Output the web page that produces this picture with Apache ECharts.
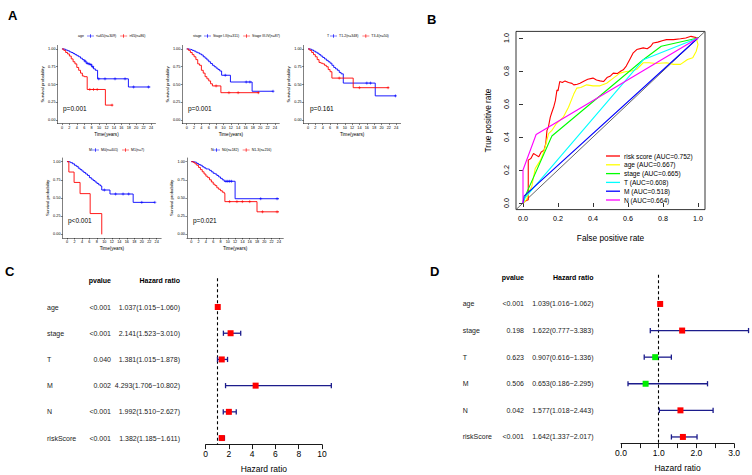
<!DOCTYPE html>
<html><head><meta charset="utf-8">
<script src="https://cdn.jsdelivr.net/npm/echarts@6/dist/echarts.min.js"></script>
<style>html,body{margin:0;padding:0;background:#fff}#c{width:752px;height:475px}</style>
</head><body><div id="c"></div>
<script>
// ---------------- DATA ----------------
const kmXTicks = [0,2,4,6,8,10,12,14,16,18,20,22,24];
const kmYTicks = [0,0.25,0.5,0.75,1];
const kmYLabels = ['0.00','0.25','0.50','0.75','1.00'];
const kmTitles = ['age','stage','T','M','N'];
const kmNames = [['<=65(n=309)','>65(n=86)'],['Stage I-II(n=311)','Stage III-IV(n=87)'],['T1-2(n=348)','T3-4(n=50)'],['M0(n=401)','M1(n=7)'],['N0(n=182)','N1-3(n=216)']];
const kmPvalues = ['p=0.001','p=0.001','p=0.161','p<0.001','p=0.021'];

const ageLow = [[0,1],[0.5,0.995],[1,0.985],[1.5,0.975],[2,0.96],[2.5,0.95],[3,0.935],[3.5,0.92],[4,0.905],[4.5,0.89],[5,0.87],[5.5,0.85],[6,0.83],[6.5,0.8],[7,0.79],[7.5,0.78],[8,0.75],[8.5,0.72],[9,0.7],[9.6,0.58],[17.9,0.465],[23.8,0.465]];
const ageLowCensor = [[6.2,0.83],[6.8,0.8],[7.3,0.79],[7.8,0.78],[8.3,0.75],[9.9,0.58],[11.6,0.58],[14.3,0.58],[17,0.58],[19.3,0.465],[23.3,0.465]];
const ageHigh = [[0,1],[0.5,0.98],[1,0.95],[1.5,0.93],[2,0.9],[2.5,0.86],[3,0.82],[3.5,0.79],[4,0.74],[4.5,0.7],[5,0.66],[5.5,0.62],[6,0.61],[6.8,0.43],[11.7,0.21],[13.7,0.21]];
const ageHighCensor = [[7.5,0.43],[8.5,0.43],[9.5,0.43],[13.5,0.21]];

const stageLow = [[0,1],[0.5,0.995],[1,0.99],[1.5,0.98],[2,0.97],[2.5,0.955],[3,0.945],[3.5,0.93],[4,0.915],[4.5,0.89],[5,0.87],[5.5,0.845],[6,0.82],[6.5,0.795],[7,0.77],[7.5,0.75],[8,0.73],[8.5,0.71],[9,0.69],[9.5,0.63],[11.9,0.535],[17.8,0.405],[23.6,0.405]];
const stageLowCensor = [[10.5,0.63],[16.2,0.535],[17.2,0.535],[23.5,0.405]];
const stageHigh = [[0,1],[0.5,0.98],[1,0.95],[1.5,0.92],[2,0.89],[2.5,0.85],[3,0.79],[3.5,0.77],[4,0.7],[4.5,0.66],[5,0.61],[5.5,0.58],[6,0.55],[6.5,0.51],[7,0.48],[9.3,0.385],[19.7,0.385]];
const stageHighCensor = [[8,0.48],[11.5,0.385],[14,0.385],[19.5,0.385]];

const tLow = [[0,1],[0.5,0.995],[1,0.985],[1.5,0.97],[2,0.955],[2.5,0.94],[3,0.92],[3.5,0.9],[4,0.88],[4.5,0.86],[5,0.84],[5.5,0.82],[6,0.8],[6.5,0.77],[7,0.74],[7.5,0.72],[8,0.7],[8.5,0.67],[9,0.65],[9.6,0.52],[18.3,0.34],[24,0.34]];
const tLowCensor = [[16,0.52],[17,0.52],[23.8,0.34]];
const tHigh = [[0,1],[0.5,0.98],[1,0.95],[1.5,0.92],[2,0.89],[2.5,0.85],[3,0.81],[3.5,0.8],[4,0.79],[4.5,0.77],[5,0.75],[5.5,0.71],[6,0.68],[6.5,0.59],[12.3,0.455],[22,0.455]];
const tHighCensor = [[8.5,0.59],[14,0.455],[21.8,0.455]];

const mLow = [[0,1],[0.5,0.995],[1,0.985],[1.5,0.97],[2,0.95],[2.5,0.935],[3,0.91],[3.5,0.89],[4,0.87],[4.5,0.85],[5,0.83],[5.5,0.81],[6,0.78],[6.5,0.76],[7,0.74],[7.5,0.72],[8,0.7],[8.5,0.68],[9,0.665],[9.3,0.61],[11.5,0.555],[17.7,0.44],[23.5,0.44]];
const mLowCensor = [[10,0.61],[13,0.555],[15,0.555],[16.5,0.555],[20,0.44],[23.5,0.44]];
const mHigh = [[0,1],[0.5,0.857],[1.9,0.714],[3.5,0.56],[6.2,0.286],[9.3,0]];
const mHighCensor = [];

const nLow = [[0,1],[0.5,0.995],[1,0.99],[1.5,0.975],[2,0.96],[2.5,0.95],[3,0.93],[3.5,0.915],[4,0.9],[4.5,0.895],[5,0.88],[5.5,0.86],[6,0.84],[6.5,0.83],[7,0.81],[7.5,0.79],[8,0.77],[8.5,0.75],[9,0.73],[12,0.49],[24,0.49]];
const nLowCensor = [[9.5,0.73],[10,0.73],[10.5,0.73],[11,0.73],[19,0.49],[23.5,0.49]];
const nHigh = [[0,1],[0.5,0.99],[1,0.97],[1.5,0.95],[2,0.92],[2.5,0.89],[3,0.86],[3.5,0.83],[4,0.8],[4.5,0.78],[5,0.75],[5.5,0.72],[6,0.69],[6.5,0.67],[7,0.64],[7.5,0.62],[8,0.6],[8.5,0.58],[9,0.565],[9.2,0.45],[18,0.31],[24,0.31]];
const nHighCensor = [[10.5,0.45],[12.5,0.45],[14,0.45],[16,0.45],[19.5,0.31],[23.5,0.31]];

const kmCurves = [[ageLow,ageHigh],[stageLow,stageHigh],[tLow,tHigh],[mLow,mHigh],[nLow,nHigh]];
const kmCensors = [[ageLowCensor,ageHighCensor],[stageLowCensor,stageHighCensor],[tLowCensor,tHighCensor],[mLowCensor,mHighCensor],[nLowCensor,nHighCensor]];

const rocTicks = [0,0.2,0.4,0.6,0.8,1.0];
const rocNames = ['risk score (AUC=0.752)','age (AUC=0.667)','stage (AUC=0.665)','T (AUC=0.608)','M (AUC=0.518)','N (AUC=0.664)'];
const rocRisk = [[0,0],[0.01,0.01],[0.03,0.02],[0.03,0.26],[0.045,0.27],[0.06,0.3],[0.075,0.29],[0.09,0.28],[0.105,0.31],[0.12,0.32],[0.13,0.36],[0.137,0.44],[0.145,0.46],[0.156,0.52],[0.165,0.55],[0.175,0.58],[0.185,0.62],[0.194,0.685],[0.2,0.68],[0.21,0.736],[0.225,0.73],[0.24,0.74],[0.26,0.73],[0.28,0.725],[0.29,0.716],[0.31,0.72],[0.326,0.726],[0.35,0.74],[0.37,0.75],[0.4,0.757],[0.42,0.745],[0.44,0.74],[0.46,0.736],[0.48,0.76],[0.5,0.77],[0.516,0.787],[0.54,0.785],[0.56,0.8],[0.573,0.807],[0.59,0.83],[0.61,0.87],[0.63,0.91],[0.65,0.93],[0.687,0.94],[0.71,0.935],[0.73,0.95],[0.744,0.97],[0.77,0.975],[0.8,0.985],[0.82,0.99],[0.86,0.99],[0.9,0.995],[0.93,1.0],[0.96,1.01],[1,1]];
const rocAge = [[0,0],[0.02,0.02],[0.04,0.08],[0.05,0.1],[0.07,0.21],[0.1,0.26],[0.115,0.3],[0.127,0.34],[0.146,0.42],[0.165,0.44],[0.19,0.48],[0.23,0.52],[0.26,0.58],[0.29,0.66],[0.307,0.696],[0.33,0.7],[0.364,0.716],[0.4,0.71],[0.44,0.71],[0.478,0.726],[0.52,0.76],[0.554,0.787],[0.59,0.797],[0.62,0.8],[0.65,0.81],[0.687,0.85],[0.72,0.85],[0.76,0.845],[0.82,0.85],[0.86,0.84],[0.9,0.84],[0.94,0.87],[0.97,0.88],[0.99,0.92],[1.0,0.96],[0.99,1.0],[1,1]];
const rocStage = [[0,0],[0.02,0.06],[0.165,0.406],[0.687,0.868],[0.79,0.95],[1,1]];
const rocT = [[0,0],[0.01,0.03],[0.687,0.868],[1,1]];
const rocM = [[0,0],[0.006,0.042],[1,1]];
const rocN = [[0,0],[0,0.2],[0.075,0.415],[1,1]];
const rocCurves = [rocRisk,rocAge,rocStage,rocT,rocM,rocN];

const coxRows = ['age','stage','T','M','N','riskScore'];
const coxHeaders = ['pvalue','Hazard ratio'];
const uniP = ['<0.001','<0.001','0.040','0.002','<0.001','<0.001'];
const uniHR = [1.037,2.141,1.381,4.293,1.992,1.382];
const uniLow = [1.015,1.523,1.015,1.706,1.510,1.185];
const uniHigh = [1.060,3.010,1.878,10.802,2.627,1.611];
const multiP = ['<0.001','0.198','0.623','0.506','0.042','<0.001'];
const multiHR = [1.039,1.622,0.907,0.653,1.577,1.642];
const multiLow = [1.016,0.777,0.616,0.186,1.018,1.337];
const multiHigh = [1.062,3.383,1.336,2.295,2.443,2.017];
const uniTicks = {min:0,max:10,interval:2};
const multiTicks = {min:0,max:3,interval:0.5};

// ---------------- LAYOUT / STYLE ----------------
const FONT = 'Liberation Sans, Arial, sans-serif';
const kmColors = ['#0000FF','#FF0000'];
const rocColors = ['#FF0000','#FFFF00','#00FF00','#00FFFF','#0000FF','#FF00FF'];
const kmGrids = [
  {left:57.5, top:45.4, width:98, height:78.2},
  {left:182.3, top:45.4, width:97, height:78.2},
  {left:303.6, top:45.4, width:97, height:78.2},
  {left:62.5, top:158, width:98.7, height:80},
  {left:186.9, top:158, width:96.4, height:80}
];
const kmLegendPos = [{left:87,top:34},{left:204,top:34},{left:330,top:34},{left:92,top:148},{left:213,top:148}];
const kmTitlePos = [[78,35.7],[193,35.7],[327,35.7],[89,149.7],[211,149.7]];
const kmPPos = [[63,108],[188,108],[310,108],[68,220.7],[193,220]];

const grids = [], xAxes = [], yAxes = [], series = [], legends = [], graphics = [];
const plusSym = 'path://M0,5L10,5M5,0L5,10';

kmGrids.forEach((g,i)=>{
  grids.push(Object.assign({containLabel:false}, g));
  xAxes.push({type:'value', gridIndex:i, min:-1.2, max:25.2,
    axisLine:{show:true, onZero:false, lineStyle:{color:'#000', width:0.5}},
    axisTick:{show:true, customValues:kmXTicks, length:1.5, lineStyle:{color:'#000', width:0.5}},
    axisLabel:{customValues:kmXTicks, fontSize:3.8, margin:2, color:'#000', fontFamily:FONT},
    splitLine:{show:false},
    name:'Time(years)', nameLocation:'middle', nameGap:8, nameTextStyle:{fontSize:4.6, color:'#000', fontFamily:FONT}});
  yAxes.push({type:'value', gridIndex:i, min:-0.05, max:1.05,
    axisLine:{show:true, onZero:false, lineStyle:{color:'#000', width:0.5}},
    axisTick:{show:true, customValues:kmYTicks, length:1.5, lineStyle:{color:'#000', width:0.5}},
    axisLabel:{customValues:kmYTicks, fontSize:3.8, margin:2, color:'#000', fontFamily:FONT,
      formatter:v=>kmYLabels[kmYTicks.indexOf(v)]},
    splitLine:{show:false},
    name:'Survival probability', nameLocation:'middle', nameGap:12, nameTextStyle:{fontSize:4.3, color:'#000', fontFamily:FONT}});
  kmCurves[i].forEach((curve,k)=>{
    series.push({type:'line', name:kmNames[i][k], xAxisIndex:i, yAxisIndex:i, data:curve, step:'end',
      symbol:'none', color:kmColors[k], lineStyle:{color:kmColors[k], width:0.9}, silent:true, z:3});
    series.push({type:'scatter', xAxisIndex:i, yAxisIndex:i, data:kmCensors[i][k], symbol:plusSym, symbolSize:3,
      itemStyle:{color:'rgba(0,0,0,0)', borderColor:kmColors[k], borderWidth:0.7}, silent:true, z:4});
  });
  legends.push({data:kmNames[i], left:kmLegendPos[i].left, top:kmLegendPos[i].top, orient:'horizontal',
    padding:0, itemGap:4, itemWidth:7, itemHeight:3.5, selectedMode:false,
    icon:'path://M0,4H20V6H0ZM9,0H11V10H9Z',
    textStyle:{fontSize:3.5, color:'#000', fontFamily:FONT, padding:[0,0,0,-3]}});
  graphics.push({type:'text', x:kmTitlePos[i][0], y:kmTitlePos[i][1],
    style:{text:kmTitles[i], fontSize:3.5, fill:'#000', fontFamily:FONT, verticalAlign:'middle'}});
  graphics.push({type:'text', x:kmPPos[i][0], y:kmPPos[i][1],
    style:{text:kmPvalues[i], fontSize:6.5, fill:'#000', fontFamily:FONT, verticalAlign:'middle'}});
});

// ROC panel
const rocIdx = grids.length;
grids.push({left:516, top:31.4, width:189, height:178.2, show:true, borderColor:'#000', borderWidth:0.8, backgroundColor:'rgba(0,0,0,0)'});
xAxes.push({type:'value', gridIndex:rocIdx, min:-0.04, max:1.04,
  axisLine:{show:false}, splitLine:{show:false},
  axisTick:{show:true, customValues:rocTicks, length:4, lineStyle:{color:'#000', width:0.8}},
  axisLabel:{customValues:rocTicks, fontSize:7.2, margin:5, color:'#000', fontFamily:FONT, formatter:v=>v.toFixed(1)},
  name:'False positive rate', nameLocation:'middle', nameGap:24, nameTextStyle:{fontSize:8.3, color:'#000', fontFamily:FONT}});
yAxes.push({type:'value', gridIndex:rocIdx, min:-0.04, max:1.04,
  axisLine:{show:false}, splitLine:{show:false},
  axisTick:{show:true, customValues:rocTicks, length:4, lineStyle:{color:'#000', width:0.8}},
  axisLabel:{customValues:rocTicks, fontSize:7.2, margin:6, color:'#000', fontFamily:FONT, rotate:90, formatter:v=>v.toFixed(1)},
  name:'True positive rate', nameLocation:'middle', nameGap:24, nameTextStyle:{fontSize:8.3, color:'#000', fontFamily:FONT}});
series.push({type:'line', xAxisIndex:rocIdx, yAxisIndex:rocIdx, data:[[-0.04,-0.04],[1.04,1.04]], symbol:'none',
  lineStyle:{color:'#555', width:0.9}, silent:true, z:2});
rocCurves.forEach((c,k)=>{
  series.push({type:'line', name:rocNames[k], xAxisIndex:rocIdx, yAxisIndex:rocIdx, data:c, symbol:'none',
    color:rocColors[k], lineStyle:{color:rocColors[k], width:1.1}, silent:true, z:3});
});
legends.push({data:rocNames, left:606, top:152.5, orient:'vertical', padding:0, itemGap:1.8, itemWidth:14, itemHeight:1.3,
  icon:'rect', selectedMode:false, textStyle:{fontSize:6.6, lineHeight:7, color:'#000', fontFamily:FONT, padding:[0,0,0,-1]}});

// Forest panels
function forestPanel(gridBox, ticks, rows, pvals, hrs, lows, highs, textOffsets, labelFmt){
  const gi = grids.length;
  grids.push(gridBox);
  xAxes.push({type:'value', gridIndex:gi, min:ticks.min, max:ticks.max, interval:ticks.interval,
    axisLine:{show:true, onZero:false, lineStyle:{color:'#000', width:0.9}},
    axisTick:{show:true, length:4.5, lineStyle:{color:'#000', width:0.9}},
    axisLabel:{fontSize:8.5, margin:5, color:'#000', fontFamily:FONT, formatter:labelFmt, showMinLabel:true, showMaxLabel:true},
    splitLine:{show:false},
    name:'Hazard ratio', nameLocation:'middle', nameGap:20, nameTextStyle:{fontSize:8.5, color:'#000', fontFamily:FONT}});
  yAxes.push({type:'value', gridIndex:gi, min:-1.1, max:5.25, inverse:true, show:false});
  const data = rows.map((r,i)=>[i, lows[i], highs[i], hrs[i]]);
  series.push({type:'custom', xAxisIndex:gi, yAxisIndex:gi, data:data, silent:true, clip:false, z:5,
    encode:{x:[1,2,3], y:0},
    renderItem:function(params, api){
      const i = api.value(0), lo = api.value(1), hi = api.value(2), hr = api.value(3);
      const pLo = api.coord([lo, i]), pHi = api.coord([hi, i]), pHr = api.coord([hr, i]);
      const x0 = api.coord([0, i])[0];
      const y = pLo[1];
      const bar = '#1c1c8c';
      const col = hr > 1 ? '#FF0000' : '#00EE00';
      const txt = {fontSize:7, fill:'#222', fontFamily:FONT, verticalAlign:'middle'};
      const children = [
        {type:'line', shape:{x1:pLo[0], y1:y, x2:pHi[0], y2:y}, style:{stroke:bar, lineWidth:1.3}},
        {type:'line', shape:{x1:pLo[0], y1:y-2.6, x2:pLo[0], y2:y+2.6}, style:{stroke:bar, lineWidth:1.3}},
        {type:'line', shape:{x1:pHi[0], y1:y-2.6, x2:pHi[0], y2:y+2.6}, style:{stroke:bar, lineWidth:1.3}},
        {type:'rect', shape:{x:pHr[0]-3, y:y-3, width:6, height:6}, style:{fill:col}},
        {type:'text', style:Object.assign({text:rows[i], x:x0+textOffsets[0], y:y, align:'left'}, txt)},
        {type:'text', style:Object.assign({text:pvals[i], x:x0+textOffsets[1], y:y, align:'right'}, txt)},
        {type:'text', style:Object.assign({text:hr.toFixed(3)+'('+lo.toFixed(3)+'\u2212'+hi.toFixed(3)+')', x:x0+textOffsets[2], y:y, align:'right'}, txt)}
      ];
      if (params.dataIndex === 0) {
        const yh = api.coord([0, -1])[1];
        children.push({type:'text', style:{text:coxHeaders[0], x:x0+textOffsets[1], y:yh, align:'right', verticalAlign:'middle', fontSize:7, fontWeight:'bold', fill:'#000', fontFamily:FONT}});
        children.push({type:'text', style:{text:coxHeaders[1], x:x0+textOffsets[2], y:yh, align:'right', verticalAlign:'middle', fontSize:7, fontWeight:'bold', fill:'#000', fontFamily:FONT}});
      }
      return {type:'group', children:children};
    },
    markLine:{silent:true, symbol:'none', label:{show:false}, animation:false,
      lineStyle:{type:[3,2.5], color:'#000', width:1.1}, data:[{xAxis:1}]}
  });
}
forestPanel({left:205.7, top:278.2, width:116.3, height:166.4}, uniTicks, coxRows, uniP, uniHR, uniLow, uniHigh, [-158.7,-94.7,-25.7], v=>String(v));
forestPanel({left:621, top:274.7, width:113.1, height:168.9}, multiTicks, coxRows, multiP, multiHR, multiLow, multiHigh, [-158.3,-97,-27.5], v=>(Number.isInteger(v)? v.toFixed(1) : ''));

// Panel letters
const letterPos = [['A',8,15],['B',427,19],['C',5,271],['D',430,271]];
letterPos.forEach(l=>graphics.push({type:'text', x:l[1], y:l[2],
  style:{text:l[0], fontSize:13, fontWeight:'bold', fill:'#000', fontFamily:FONT, verticalAlign:'middle'}}));

const chart = echarts.init(document.getElementById('c'), null, {renderer:'svg', width:752, height:475});
chart.setOption({
  animation:false, backgroundColor:'#fff',
  grid:grids, xAxis:xAxes, yAxis:yAxes, series:series, legend:legends, graphic:graphics
});
</script></body></html>
